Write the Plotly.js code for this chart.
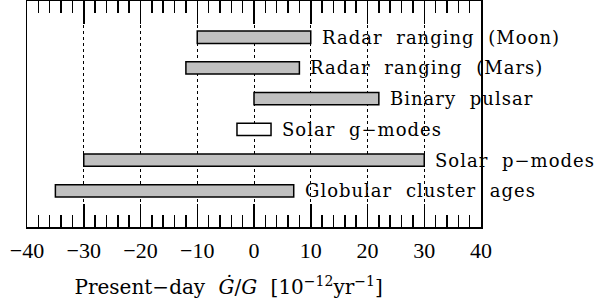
<!DOCTYPE html>
<html><head><meta charset="utf-8">
<script src="https://cdn.plot.ly/plotly-3.0.1.min.js"></script>
<style>
html,body{margin:0;padding:0;background:#fff}#c{width:598px;height:307px}
.annotation-text{word-spacing:7px;letter-spacing:1px}
.annotation[data-index="6"] .annotation-text{letter-spacing:0}
#note{position:absolute;left:0;top:0;width:1px;height:1px;overflow:hidden;opacity:0}
</style>
</head><body><div id="c"></div><div id="note"></div>
<script>
const labels = ["Radar ranging (Moon)", "Radar ranging (Mars)", "Binary pulsar", "Solar g\u2212modes", "Solar p\u2212modes", "Globular cluster ages"];
const lows = [-10, -12, 0, -3, -30, -35];
const highs = [10, 8, 22, 3, 30, 7];
const fills = ["#c0c0c0", "#c0c0c0", "#c0c0c0", "#ffffff", "#c0c0c0", "#c0c0c0"];
const rows = [1, 2, 3, 4, 5, 6];
const xTitle = "Present\u2212day <i>\u0120</i>/<i>G</i> [10<sup>\u221212</sup>yr<sup>\u22121</sup>]";
const FONT = "DejaVu Serif";
const TICKFONT = "Liberation Serif";

const trace = {
  type: "bar", orientation: "h",
  y: rows, base: lows, x: highs.map((h, i) => h - lows[i]),
  width: 0.4,
  marker: {color: fills, line: {color: "#000", width: 1.5}},
  hoverinfo: "skip"
};
const annotations = labels.map((t, i) => ({
  x: highs[i], y: rows[i], xref: "x", yref: "y", text: t,
  showarrow: false, xanchor: "left", yanchor: "middle", xshift: 9,
  font: {family: FONT, size: 18, color: "#000"}
}));
const titleAnn = {
  x: 0.443, y: 0, xref: "paper", yref: "paper", yanchor: "top", xanchor: "center",
  yshift: -44, text: xTitle, showarrow: false,
  font: {family: FONT, size: 20, color: "#000"}
};
const layout = {
  width: 598, height: 307,
  margin: {l: 27, r: 117, t: 1, b: 80},
  paper_bgcolor: "#fff", plot_bgcolor: "#fff",
  showlegend: false,
  font: {family: FONT, size: 16, color: "#000"},
  xaxis: {
    range: [-40, 40], dtick: 10, tick0: 0,
    ticks: "inside", ticklen: 23, tickwidth: 1.5, tickcolor: "#000",
    showline: true, linecolor: "#000", linewidth: 1.5, mirror: "ticks",
    showgrid: true, gridcolor: "#000", gridwidth: 1, griddash: "dot",
    zeroline: false,
    minor: {dtick: 2, tick0: 0, ticks: "inside", ticklen: 12, tickwidth: 1.5, tickcolor: "#000", showgrid: false},
    ticklabelstandoff: 3,
    tickfont: {family: TICKFONT, size: 22}
  },
  yaxis: {
    range: [7.18, -0.18], showticklabels: false, ticks: "",
    showline: true, linecolor: "#000", linewidth: 1.5, mirror: true,
    showgrid: false, zeroline: false
  },
  annotations: annotations.concat([titleAnn])
};
Plotly.newPlot("c", [trace], layout, {staticPlot: true}).then(() => {
  const ps = Array.from(document.querySelectorAll("path")).filter(p => /tick/.test(p.getAttribute("class") || ""));
  let s = "";
  ps.forEach(p => { const r = p.getBoundingClientRect(); s += r.x.toFixed(0) + ","; });
  document.getElementById("note").textContent = s;
});
</script></body></html>
